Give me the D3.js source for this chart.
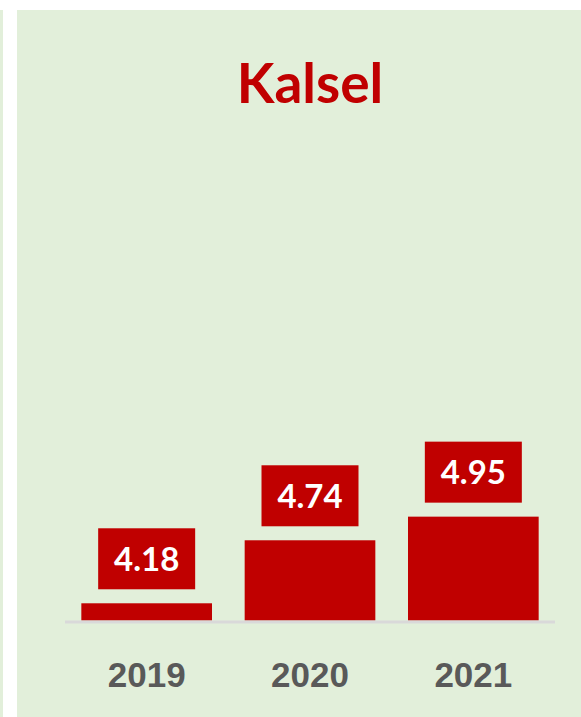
<!DOCTYPE html>
<html>
<head>
<meta charset="utf-8">
<style>
  body { margin: 0; background: #ffffff; }
  svg { display: block; font-family: Lato, 'Open Sans', sans-serif; }
  .year text { font-size: 35px; font-weight: 700; fill: #595959; }
</style>
</head>
<body>
<svg width="581" height="717"></svg>
<script src="https://d3js.org/d3.v7.min.js"></script>
<script>
  let title = "Kalsel";
  let years = ["2019", "2020", "2021"];
  let values = [4.18, 4.74, 4.95];

  let svg = d3.select("svg");

  // light green panels (a sliver of the neighbouring one on the left)
  svg.append("rect").attr("x", 0).attr("y", 10).attr("width", 3).attr("height", 707).attr("fill", "#e2efda");
  svg.append("rect").attr("x", 17).attr("y", 10).attr("width", 564).attr("height", 707).attr("fill", "#e2efda");

  let x = d3.scaleBand()
    .domain(years)
    .range([65, 555])
    .paddingInner(0.2)
    .paddingOuter(0.1);

  let y = d3.scaleLinear()
    .domain([4.027, 8.2])
    .range([620.5, 151]);

  svg.append("text")
    .attr("x", 310)
    .attr("y", 103)
    .attr("text-anchor", "middle")
    .style("font-size", "55px")
    .style("font-weight", 700)
    .style("fill", "#c00000")
    .text(title);

  let data = years.map((d, i) => ({ year: d, value: values[i] }));

  svg.append("g")
    .selectAll("rect")
    .data(data)
    .join("rect")
    .attr("x", d => x(d.year))
    .attr("width", x.bandwidth())
    .attr("y", d => y(d.value))
    .attr("height", d => y.range()[0] - y(d.value))
    .attr("fill", "#c00000");

  // axis line
  svg.append("line")
    .attr("x1", 65).attr("x2", 555)
    .attr("y1", 622).attr("y2", 622)
    .attr("stroke", "#d9d9d9")
    .attr("stroke-width", 3);

  // value label boxes
  let labels = svg.append("g")
    .selectAll("g")
    .data(data)
    .join("g")
    .attr("transform", d => `translate(${x(d.year) + x.bandwidth() / 2},${y(d.value) - 14})`);

  labels.append("rect")
    .attr("x", -48.5)
    .attr("y", -61)
    .attr("width", 97)
    .attr("height", 61)
    .attr("fill", "#c00000");

  labels.append("text")
    .attr("y", -18.5)
    .attr("text-anchor", "middle")
    .style("font-size", "33px")
    .style("font-weight", 700)
    .style("fill", "#ffffff")
    .text(d => d3.format(".2f")(d.value));

  let xAxis = d3.axisBottom(x).tickSize(0).tickPadding(0);
  svg.append("g")
    .attr("class", "year")
    .attr("transform", "translate(0,662)")
    .call(xAxis)
    .call(g => g.select(".domain").remove())
    .call(g => g.selectAll("text").attr("dy", "0.71em").attr("y", 0));
</script>
</body>
</html>
